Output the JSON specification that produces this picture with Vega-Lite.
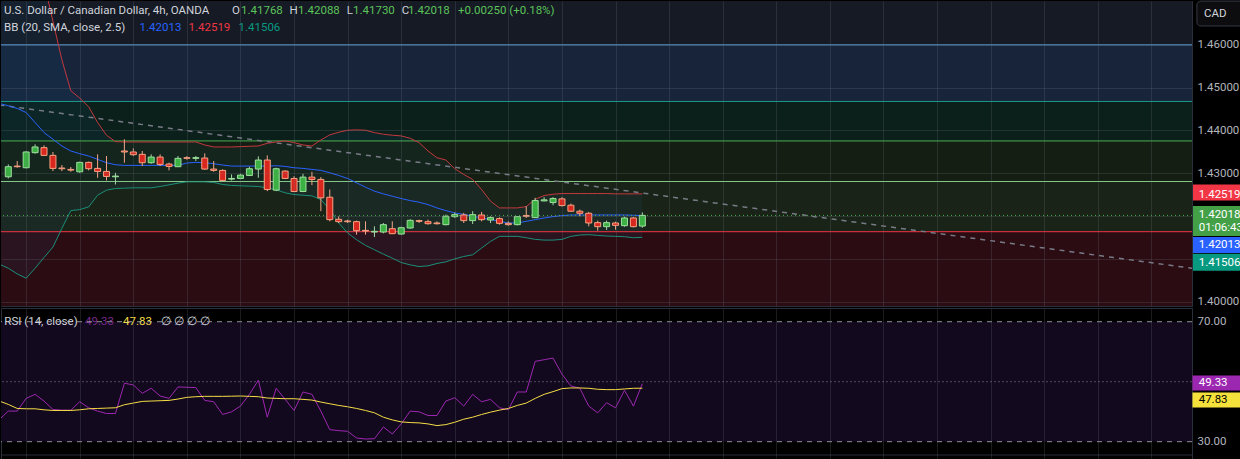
{
"$schema":"https://vega.github.io/schema/vega-lite/v6.json",
"background":"#000000",
"padding":0,
"autosize":{"type":"pad"},
"bounds":"flush",
"spacing":2,
"config":{"view":{"stroke":"#2a2e39","strokeWidth":1},"text":{"font":"Roboto"},"axis":{"labelFont":"Roboto"},"scale":{"continuousPadding":0}},
"resolve":{"scale":{"color":"independent"}},
"datasets":{
"zones":[{"z":"z0","lo":1.46,"hi":1.48},{"z":"z1","lo":1.44678,"hi":1.46},{"z":"z2","lo":1.43756,"hi":1.44678},{"z":"z3","lo":1.42809,"hi":1.43756},{"z":"z4","lo":1.41637,"hi":1.42809},{"z":"z5","lo":1.39,"hi":1.41637}],
"fib":[{"z":"f0","p":1.46},{"z":"f1","p":1.44678},{"z":"f2","p":1.43756},{"z":"f3","p":1.42809},{"z":"f4","p":1.41637}],
"trend":[{"k":-1,"p":1.44596},{"k":133,"p":1.4077}],
"ohlc":[
{"k":0,"o":1.42919,"h":1.43208,"l":1.4288,"c":1.43154},
{"k":1,"o":1.43169,"h":1.43286,"l":1.4313,"c":1.43154},
{"k":2,"o":1.4313,"h":1.43521,"l":1.43115,"c":1.43498},
{"k":3,"o":1.43482,"h":1.43677,"l":1.43458,"c":1.43615},
{"k":4,"o":1.43599,"h":1.43654,"l":1.43403,"c":1.43419},
{"k":5,"o":1.43419,"h":1.43498,"l":1.43052,"c":1.43115},
{"k":6,"o":1.43123,"h":1.43193,"l":1.43052,"c":1.43107},
{"k":7,"o":1.43091,"h":1.43146,"l":1.43036,"c":1.43075},
{"k":8,"o":1.43036,"h":1.43271,"l":1.43013,"c":1.43255},
{"k":9,"o":1.43255,"h":1.43271,"l":1.43068,"c":1.43107},
{"k":10,"o":1.43115,"h":1.43443,"l":1.42896,"c":1.43044},
{"k":11,"o":1.43044,"h":1.43403,"l":1.42833,"c":1.42927},
{"k":12,"o":1.42919,"h":1.43013,"l":1.42739,"c":1.42935},
{"k":13,"o":1.43521,"h":1.43795,"l":1.43247,"c":1.43498},
{"k":14,"o":1.43498,"h":1.43583,"l":1.43403,"c":1.43435},
{"k":15,"o":1.43443,"h":1.43521,"l":1.43169,"c":1.43247},
{"k":16,"o":1.43247,"h":1.43443,"l":1.43224,"c":1.4338},
{"k":17,"o":1.4338,"h":1.43443,"l":1.43169,"c":1.43208},
{"k":18,"o":1.43216,"h":1.43247,"l":1.43068,"c":1.43161},
{"k":19,"o":1.43154,"h":1.43403,"l":1.43146,"c":1.43349},
{"k":20,"o":1.43365,"h":1.43403,"l":1.43318,"c":1.43349},
{"k":21,"o":1.43349,"h":1.43403,"l":1.43286,"c":1.43365},
{"k":22,"o":1.43357,"h":1.43466,"l":1.43083,"c":1.43099},
{"k":23,"o":1.43099,"h":1.43286,"l":1.43036,"c":1.43068},
{"k":24,"o":1.43068,"h":1.43091,"l":1.42818,"c":1.42833},
{"k":25,"o":1.42864,"h":1.42974,"l":1.42833,"c":1.4288},
{"k":26,"o":1.4288,"h":1.42989,"l":1.42864,"c":1.42958},
{"k":27,"o":1.4295,"h":1.43154,"l":1.42935,"c":1.43107},
{"k":28,"o":1.43099,"h":1.43396,"l":1.42896,"c":1.4331},
{"k":29,"o":1.4331,"h":1.43419,"l":1.42583,"c":1.42622},
{"k":30,"o":1.42607,"h":1.4313,"l":1.42583,"c":1.43107},
{"k":31,"o":1.43052,"h":1.43068,"l":1.42864,"c":1.4288},
{"k":32,"o":1.4288,"h":1.42935,"l":1.4256,"c":1.42575},
{"k":33,"o":1.42575,"h":1.42989,"l":1.4256,"c":1.42911},
{"k":34,"o":1.42911,"h":1.43036,"l":1.42724,"c":1.42857},
{"k":35,"o":1.42857,"h":1.42911,"l":1.42115,"c":1.42427},
{"k":36,"o":1.42442,"h":1.42622,"l":1.41879,"c":1.41918},
{"k":37,"o":1.41926,"h":1.41996,"l":1.4184,"c":1.41871},
{"k":38,"o":1.41887,"h":1.41918,"l":1.4184,"c":1.41871},
{"k":39,"o":1.41871,"h":1.41895,"l":1.41567,"c":1.4166},
{"k":40,"o":1.41668,"h":1.41879,"l":1.41567,"c":1.41652},
{"k":41,"o":1.41629,"h":1.41762,"l":1.41512,"c":1.41645},
{"k":42,"o":1.41629,"h":1.4184,"l":1.41598,"c":1.41801},
{"k":43,"o":1.41707,"h":1.41879,"l":1.41582,"c":1.4159},
{"k":44,"o":1.41582,"h":1.41754,"l":1.41567,"c":1.4173},
{"k":45,"o":1.41723,"h":1.41926,"l":1.41707,"c":1.41902},
{"k":46,"o":1.41895,"h":1.41918,"l":1.4184,"c":1.41879},
{"k":47,"o":1.41871,"h":1.41918,"l":1.41801,"c":1.41824},
{"k":48,"o":1.4184,"h":1.41879,"l":1.41801,"c":1.41824},
{"k":49,"o":1.41801,"h":1.42035,"l":1.41785,"c":1.41996},
{"k":50,"o":1.41988,"h":1.42083,"l":1.41957,"c":1.42035},
{"k":51,"o":1.42027,"h":1.42075,"l":1.4184,"c":1.41895},
{"k":52,"o":1.41895,"h":1.42115,"l":1.41816,"c":1.42035},
{"k":53,"o":1.42027,"h":1.42099,"l":1.41879,"c":1.41918},
{"k":54,"o":1.4191,"h":1.41996,"l":1.4184,"c":1.41965},
{"k":55,"o":1.41942,"h":1.41973,"l":1.41801,"c":1.41832},
{"k":56,"o":1.41832,"h":1.41879,"l":1.41777,"c":1.41801},
{"k":57,"o":1.41801,"h":1.42004,"l":1.41785,"c":1.41988},
{"k":58,"o":1.42012,"h":1.42231,"l":1.41957,"c":1.41996},
{"k":59,"o":1.41965,"h":1.42427,"l":1.41957,"c":1.42364},
{"k":60,"o":1.42356,"h":1.42442,"l":1.42349,"c":1.4238},
{"k":61,"o":1.42317,"h":1.42442,"l":1.42255,"c":1.42411},
{"k":62,"o":1.42403,"h":1.42442,"l":1.42223,"c":1.42247},
{"k":63,"o":1.42255,"h":1.42294,"l":1.42099,"c":1.42115},
{"k":64,"o":1.42115,"h":1.42153,"l":1.41996,"c":1.42067},
{"k":65,"o":1.42067,"h":1.42099,"l":1.41762,"c":1.4184},
{"k":66,"o":1.41848,"h":1.41895,"l":1.4166,"c":1.41754},
{"k":67,"o":1.41754,"h":1.41895,"l":1.41676,"c":1.41848},
{"k":68,"o":1.4184,"h":1.41871,"l":1.41684,"c":1.41785},
{"k":69,"o":1.41777,"h":1.41988,"l":1.41754,"c":1.41957},
{"k":70,"o":1.41957,"h":1.41981,"l":1.41738,"c":1.41754},
{"k":71,"o":1.41768,"h":1.42088,"l":1.4173,"c":1.42018}
],
"bb":[
{"k":-1,"up":1.493,"mid":1.44631,"lo":1.40878},
{"k":0,"up":1.492,"mid":1.44577,"lo":1.40784},
{"k":1,"up":1.49,"mid":1.44514,"lo":1.40651},
{"k":2,"up":1.487,"mid":1.4442,"lo":1.4055},
{"k":3,"up":1.482,"mid":1.44186,"lo":1.40784},
{"k":4,"up":1.4745,"mid":1.43951,"lo":1.41034},
{"k":5,"up":1.4655,"mid":1.43795,"lo":1.41277},
{"k":6,"up":1.4565,"mid":1.43638,"lo":1.41715},
{"k":7,"up":1.44929,"mid":1.43521,"lo":1.42129},
{"k":8,"up":1.44757,"mid":1.43458,"lo":1.42153},
{"k":9,"up":1.44553,"mid":1.43404,"lo":1.42215},
{"k":10,"up":1.44186,"mid":1.43326,"lo":1.42489},
{"k":11,"up":1.43889,"mid":1.43247,"lo":1.42606},
{"k":12,"up":1.4374,"mid":1.432,"lo":1.42645},
{"k":13,"up":1.43732,"mid":1.43185,"lo":1.42653},
{"k":14,"up":1.43732,"mid":1.43185,"lo":1.42661},
{"k":15,"up":1.43732,"mid":1.43185,"lo":1.42661},
{"k":16,"up":1.43732,"mid":1.43185,"lo":1.42661},
{"k":17,"up":1.43732,"mid":1.43185,"lo":1.42692},
{"k":18,"up":1.43732,"mid":1.43185,"lo":1.42731},
{"k":19,"up":1.43732,"mid":1.43185,"lo":1.4277},
{"k":20,"up":1.43732,"mid":1.4324,"lo":1.42801},
{"k":21,"up":1.43732,"mid":1.43255,"lo":1.42801},
{"k":22,"up":1.43662,"mid":1.43247,"lo":1.42801},
{"k":23,"up":1.43615,"mid":1.43224,"lo":1.42786},
{"k":24,"up":1.43615,"mid":1.43193,"lo":1.42739},
{"k":25,"up":1.43615,"mid":1.43169,"lo":1.42716},
{"k":26,"up":1.43623,"mid":1.43169,"lo":1.42708},
{"k":27,"up":1.43631,"mid":1.43169,"lo":1.427},
{"k":28,"up":1.43638,"mid":1.43169,"lo":1.42692},
{"k":29,"up":1.43701,"mid":1.43169,"lo":1.42661},
{"k":30,"up":1.43732,"mid":1.43177,"lo":1.42614},
{"k":31,"up":1.43756,"mid":1.43161,"lo":1.42544},
{"k":32,"up":1.43717,"mid":1.4313,"lo":1.42505},
{"k":33,"up":1.43662,"mid":1.43115,"lo":1.42489},
{"k":34,"up":1.43638,"mid":1.43091,"lo":1.42473},
{"k":35,"up":1.43779,"mid":1.43068,"lo":1.42387},
{"k":36,"up":1.43897,"mid":1.43013,"lo":1.42153},
{"k":37,"up":1.43959,"mid":1.4295,"lo":1.4184},
{"k":38,"up":1.44006,"mid":1.4288,"lo":1.41606},
{"k":39,"up":1.44014,"mid":1.42778,"lo":1.4145},
{"k":40,"up":1.44006,"mid":1.42676,"lo":1.41317},
{"k":41,"up":1.43951,"mid":1.42583,"lo":1.41215},
{"k":42,"up":1.43912,"mid":1.4252,"lo":1.41113},
{"k":43,"up":1.43889,"mid":1.42465,"lo":1.41019},
{"k":44,"up":1.43873,"mid":1.42411,"lo":1.40917},
{"k":45,"up":1.43818,"mid":1.42364,"lo":1.40862},
{"k":46,"up":1.43717,"mid":1.42325,"lo":1.40823},
{"k":47,"up":1.43521,"mid":1.4227,"lo":1.40839},
{"k":48,"up":1.43365,"mid":1.42192,"lo":1.40894},
{"k":49,"up":1.4331,"mid":1.42129,"lo":1.40933},
{"k":50,"up":1.43107,"mid":1.42075,"lo":1.41003},
{"k":51,"up":1.42974,"mid":1.42043,"lo":1.41058},
{"k":52,"up":1.42857,"mid":1.41996,"lo":1.41097},
{"k":53,"up":1.42622,"mid":1.41957,"lo":1.41254},
{"k":54,"up":1.42349,"mid":1.41918,"lo":1.4141},
{"k":55,"up":1.42192,"mid":1.41879,"lo":1.41528},
{"k":56,"up":1.42192,"mid":1.4184,"lo":1.41528},
{"k":57,"up":1.42192,"mid":1.4184,"lo":1.41528},
{"k":58,"up":1.42223,"mid":1.41879,"lo":1.41496},
{"k":59,"up":1.42395,"mid":1.41918,"lo":1.41457},
{"k":60,"up":1.42481,"mid":1.41957,"lo":1.41441},
{"k":61,"up":1.42512,"mid":1.41988,"lo":1.41441},
{"k":62,"up":1.42528,"mid":1.42012,"lo":1.41457},
{"k":63,"up":1.42528,"mid":1.42027,"lo":1.41528},
{"k":64,"up":1.42528,"mid":1.42027,"lo":1.41559},
{"k":65,"up":1.42528,"mid":1.42027,"lo":1.41567},
{"k":66,"up":1.42528,"mid":1.42027,"lo":1.41551},
{"k":67,"up":1.42528,"mid":1.42027,"lo":1.41535},
{"k":68,"up":1.4252,"mid":1.42027,"lo":1.41528},
{"k":69,"up":1.4252,"mid":1.42027,"lo":1.4152},
{"k":70,"up":1.4252,"mid":1.4202,"lo":1.41496},
{"k":71,"up":1.42519,"mid":1.42013,"lo":1.41506}
],
"rsi":[
{"k":-1,"r":37.4,"m":43.55},{"k":0,"r":40.2,"m":42.43},{"k":1,"r":40.2,"m":41.08},{"k":2,"r":44.45,"m":40.97},{"k":3,"r":45.79,"m":40.97},
{"k":4,"r":43.55,"m":40.63},{"k":5,"r":40.75,"m":40.41},{"k":6,"r":40.52,"m":40.41},{"k":7,"r":40.52,"m":40.41},{"k":8,"r":43.32,"m":40.63},
{"k":9,"r":41.31,"m":40.97},{"k":10,"r":40.19,"m":41.08},{"k":11,"r":39.4,"m":41.2},{"k":12,"r":39.4,"m":41.31},{"k":13,"r":49.49,"m":42.32},
{"k":14,"r":48.93,"m":42.88},{"k":15,"r":46.13,"m":43.44},{"k":16,"r":47.81,"m":43.55},{"k":17,"r":45.23,"m":43.66},{"k":18,"r":44.44,"m":43.77},
{"k":19,"r":48.25,"m":44.22},{"k":20,"r":48.14,"m":44.78},{"k":21,"r":48.03,"m":45.0},{"k":22,"r":43.77,"m":45.12},{"k":23,"r":43.32,"m":45.12},
{"k":24,"r":39.07,"m":45.12},{"k":25,"r":39.96,"m":45.17},{"k":26,"r":41.87,"m":45.23},{"k":27,"r":45.79,"m":45.12},{"k":28,"r":50.5,"m":45.0},
{"k":29,"r":38.17,"m":44.56},{"k":30,"r":47.81,"m":44.44},{"k":31,"r":44.11,"m":44.33},{"k":32,"r":40.41,"m":44.33},{"k":33,"r":46.57,"m":44.11},
{"k":34,"r":45.79,"m":43.88},{"k":35,"r":40.19,"m":43.21},{"k":36,"r":34.02,"m":42.65},{"k":37,"r":33.69,"m":42.09},{"k":38,"r":33.46,"m":41.64},
{"k":39,"r":31.22,"m":41.08},{"k":40,"r":30.89,"m":40.41},{"k":41,"r":31.0,"m":39.63},{"k":42,"r":34.92,"m":38.17},{"k":43,"r":32.57,"m":37.27},
{"k":44,"r":35.93,"m":36.6},{"k":45,"r":40.19,"m":36.38},{"k":46,"r":39.96,"m":36.27},{"k":47,"r":38.73,"m":35.93},{"k":48,"r":38.73,"m":35.37},
{"k":49,"r":43.55,"m":35.7},{"k":50,"r":44.67,"m":36.49},{"k":51,"r":41.87,"m":37.5},{"k":52,"r":45.79,"m":38.17},{"k":53,"r":43.32,"m":39.07},
{"k":54,"r":44.11,"m":39.85},{"k":55,"r":41.31,"m":40.52},{"k":56,"r":40.64,"m":41.08},{"k":57,"r":46.57,"m":42.09},{"k":58,"r":46.57,"m":42.88},
{"k":59,"r":56.77,"m":44.44},{"k":60,"r":57.33,"m":45.79},{"k":61,"r":57.89,"m":46.69},{"k":62,"r":52.51,"m":47.69},{"k":63,"r":48.59,"m":47.92},
{"k":64,"r":47.81,"m":47.92},{"k":65,"r":41.87,"m":47.81},{"k":66,"r":39.63,"m":47.47},{"k":67,"r":42.99,"m":47.36},{"k":68,"r":41.31,"m":47.36},
{"k":69,"r":47.13,"m":47.58},{"k":70,"r":41.87,"m":47.81},{"k":71,"r":49.33,"m":47.83}
],
"legendMain":[
{"k":-0.48,"p":1.46801,"t":"U.S. Dollar / Canadian Dollar, 4h, OANDA","s":"lbl"},
{"k":25.05,"p":1.46801,"t":"O","s":"lbl"},
{"k":26.06,"p":1.46801,"t":"1.41768","s":"val"},
{"k":31.5,"p":1.46801,"t":"H","s":"lbl"},
{"k":32.44,"p":1.46801,"t":"1.42088","s":"val"},
{"k":37.9,"p":1.46801,"t":"L","s":"lbl"},
{"k":38.6,"p":1.46801,"t":"1.41730","s":"val"},
{"k":44.05,"p":1.46801,"t":"C","s":"lbl"},
{"k":44.76,"p":1.46801,"t":"1.42018","s":"val"},
{"k":50.36,"p":1.46801,"t":"+0.00250 (+0.18%)","s":"val"},
{"k":-0.48,"p":1.46404,"t":"BB (20, SMA, close, 2.5)","s":"lbl"},
{"k":14.7,"p":1.46404,"t":"1.42013","s":"basis"},
{"k":20.18,"p":1.46404,"t":"1.42519","s":"upper"},
{"k":25.78,"p":1.46404,"t":"1.41506","s":"lower"}
],
"tags":[
{"s":"upper","t":"1.42519","top":1.42737,"bot":1.42363,"mid":1.42505},
{"s":"close","t":"1.42018","top":1.42236,"bot":1.41536,"mid":1.42026},
{"s":"close","t":"01:06:43","top":1.42236,"bot":1.41536,"mid":1.41723},
{"s":"basis","t":"1.42013","top":1.41513,"bot":1.41139,"mid":1.41326},
{"s":"lower","t":"1.41506","top":1.4112,"bot":1.40723,"mid":1.40905}
],
"cad":[{"t":"CAD","top":1.4702,"bot":1.4644,"mid":1.46731}],
"rsiLegend":[
{"k":-0.44,"v":70,"t":"RSI (14, close)","s":"lbl"},
{"k":8.59,"v":70,"t":"49.33","s":"rsi"},
{"k":12.85,"v":70,"t":"47.83","s":"ma"},
{"k":17.1,"v":70,"t":"∅ ∅ ∅ ∅","s":"na"}
],
"rtags":[
{"s":"rsiT","t":"49.33","top":52.07,"bot":47.07,"mid":49.57},
{"s":"maT","t":"47.83","top":46.4,"bot":41.4,"mid":43.9}
]
},
"vconcat":[
{
"width":1191,"height":305,
"layer":[
{"data":{"name":"zones"},"mark":{"type":"rect","clip":true},
 "encoding":{
  "y":{"field":"lo","type":"quantitative","scale":{"domain":[1.39902,1.47023],"nice":false,"zero":false,"padding":0},
   "axis":{"orient":"right","values":[1.4,1.41,1.42,1.43,1.44,1.45,1.46],"labelExpr":"abs(datum.value-1.41)<0.0001||abs(datum.value-1.42)<0.0001?'':format(datum.value,'.5f')","grid":true,"gridColor":"#787b86","gridOpacity":0.22,"ticks":false,"domain":true,"domainColor":"#2a2e39","labelColor":"#b2b5be","labelFontSize":11.5,"labelPadding":5,"title":null,"zindex":1}},
  "y2":{"field":"hi"},
  "color":{"field":"z","type":"nominal","legend":null,"scale":{"domain":["z0","z1","z2","z3","z4","z5","f0","f1","f2","f3","f4","lbl","val","upper","close","basis","lower"],"range":["#151a24","#17243a","#0b1f1b","#141e12","#1a2317","#2b0c13","#5b9bd5","#1d9e8b","#4caf50","#86c98a","#f23645","#d1d4dc","#5cc35a","#f23645","#43a047","#2962ff","#089981"]}}
 }},
{"data":{"name":"bb"},"mark":{"type":"area","clip":true,"color":"#2196f3","opacity":0.06},
 "encoding":{
  "x":{"field":"k","type":"quantitative","scale":{"domain":[-0.817,132.55],"nice":false,"zero":false,"padding":0},
   "axis":{"values":[2,8,14,20,26,32,38,44,50,56,62,68,74,80,86,92,98,104,110,116,122,128],"grid":true,"gridColor":"#787b86","gridOpacity":0.22,"labels":false,"ticks":false,"domain":false,"title":null,"zindex":1}},
  "y":{"field":"up","type":"quantitative"},
  "y2":{"field":"lo"}
 }},
{"data":{"name":"fib"},"mark":{"type":"rule","clip":true,"strokeWidth":1},
 "encoding":{"y":{"field":"p","type":"quantitative"},
  "color":{"field":"z","type":"nominal","legend":null}}},
{"data":{"name":"trend"},"mark":{"type":"line","clip":true,"color":"#787b86","strokeDash":[5,5],"strokeWidth":1.5},
 "encoding":{"x":{"field":"k","type":"quantitative"},"y":{"field":"p","type":"quantitative"}}},
{"data":{"name":"bb"},"mark":{"type":"line","clip":true,"color":"#c4383e","strokeWidth":1},
 "encoding":{"x":{"field":"k","type":"quantitative"},"y":{"field":"up","type":"quantitative"}}},
{"data":{"name":"bb"},"mark":{"type":"line","clip":true,"color":"#2962ff","strokeWidth":1},
 "encoding":{"x":{"field":"k","type":"quantitative"},"y":{"field":"mid","type":"quantitative"}}},
{"data":{"name":"bb"},"mark":{"type":"line","clip":true,"color":"#1b8f7a","strokeWidth":1},
 "encoding":{"x":{"field":"k","type":"quantitative"},"y":{"field":"lo","type":"quantitative"}}},
{"data":{"values":[{"p":1.42018}]},"mark":{"type":"rule","color":"#4caf50","strokeDash":[1,3],"strokeWidth":1},
 "encoding":{"y":{"field":"p","type":"quantitative"}}},
{"data":{"name":"ohlc"},"mark":{"type":"rule","clip":true,"strokeWidth":1},
 "encoding":{"x":{"field":"k","type":"quantitative"},"y":{"field":"l","type":"quantitative"},"y2":{"field":"h"},
  "color":{"condition":{"test":"datum.c > datum.o","value":"#a5d6a7"},"value":"#f4a488"}}},
{"data":{"name":"ohlc"},"mark":{"type":"bar","clip":true,"width":6,"strokeWidth":1},
 "encoding":{"x":{"field":"k","type":"quantitative"},"y":{"field":"o","type":"quantitative"},"y2":{"field":"c"},
  "fill":{"condition":{"test":"datum.c > datum.o","value":"#3bb043"},"value":"#d8271f"},
  "stroke":{"condition":{"test":"datum.c > datum.o","value":"#9fe09f"},"value":"#f6a383"}}},
{"data":{"name":"legendMain"},"mark":{"type":"text","align":"left","baseline":"middle","font":"Roboto","fontSize":11.5},
 "encoding":{"x":{"field":"k","type":"quantitative"},"y":{"field":"p","type":"quantitative"},"text":{"field":"t"},
  "color":{"field":"s","type":"nominal","legend":null}}},
{"data":{"name":"tags"},"mark":{"type":"rect"},
 "encoding":{"x":{"datum":132.6,"type":"quantitative"},"x2":{"datum":139},"y":{"field":"top","type":"quantitative"},"y2":{"field":"bot"},
  "color":{"field":"s","type":"nominal","legend":null}}},
{"data":{"name":"tags"},"mark":{"type":"text","align":"left","baseline":"middle","font":"Roboto","fontSize":11.5,"color":"#ffffff"},
 "encoding":{"x":{"datum":133.3,"type":"quantitative"},"y":{"field":"mid","type":"quantitative"},"text":{"field":"t"}}},
{"data":{"name":"cad"},"mark":{"type":"rect","cornerRadius":4,"fill":"#0d0d0f","stroke":"#363a45","strokeWidth":1},
 "encoding":{"x":{"datum":133.1,"type":"quantitative"},"x2":{"datum":140},"y":{"field":"top","type":"quantitative"},"y2":{"field":"bot"}}},
{"data":{"name":"cad"},"mark":{"type":"text","align":"left","baseline":"middle","font":"Roboto","fontSize":11.5,"color":"#d1d4dc"},
 "encoding":{"x":{"datum":133.9,"type":"quantitative"},"y":{"field":"mid","type":"quantitative"},"text":{"field":"t"}}}
]
},
{
"width":1191,"height":152,
"layer":[
{"data":{"values":[{"lo":30,"hi":70}]},"mark":{"type":"rect","color":"#13091f"},
 "encoding":{"y":{"field":"lo","type":"quantitative","scale":{"domain":[23.9,74.57],"nice":false,"zero":false,"padding":0},
   "axis":{"orient":"right","values":[30,70],"format":".2f","grid":false,"ticks":false,"domain":true,"domainColor":"#2a2e39","labelColor":"#b2b5be","labelFontSize":11.5,"labelPadding":5,"title":null}},
  "y2":{"field":"hi"}}},
{"data":{"name":"rsiLegend"},"mark":{"type":"text","align":"left","baseline":"middle","font":"Roboto","fontSize":11.5},
 "encoding":{"x":{"field":"k","type":"quantitative","scale":{"domain":[-0.817,132.55],"nice":false,"zero":false,"padding":0},
   "axis":{"values":[2,8,14,20,26,32,38,44,50,56,62,68,74,80,86,92,98,104,110,116,122,128],"grid":true,"gridColor":"#787b86","gridOpacity":0.22,"labels":false,"ticks":false,"domain":false,"title":null,"zindex":1}},
  "y":{"field":"v","type":"quantitative"},"text":{"field":"t"},
  "color":{"field":"s","type":"nominal","legend":null,"scale":{"domain":["lbl","rsi","ma","na","rsiT","maT"],"range":["#d1d4dc","#7b2a8c","#f2dc48","#d1d4dc","#9c27b0","#f5e13c"]}}}},
{"data":{"values":[{"v":70},{"v":30}]},"mark":{"type":"rule","color":"#b2b5be","strokeDash":[5,5],"opacity":0.8},
 "encoding":{"y":{"field":"v","type":"quantitative"}}},
{"data":{"values":[{"v":50}]},"mark":{"type":"rule","color":"#787b86","strokeDash":[2,2],"opacity":0.6},
 "encoding":{"y":{"field":"v","type":"quantitative"}}},
{"data":{"values":[{"v":25.57}]},"mark":{"type":"rule","color":"#2a2e39"},
 "encoding":{"y":{"field":"v","type":"quantitative"}}},
{"data":{"name":"rsi"},"mark":{"type":"line","clip":true,"color":"#9c27b0","strokeWidth":1},
 "encoding":{"x":{"field":"k","type":"quantitative"},"y":{"field":"r","type":"quantitative"}}},
{"data":{"name":"rsi"},"mark":{"type":"line","clip":true,"color":"#f5dd45","strokeWidth":1},
 "encoding":{"x":{"field":"k","type":"quantitative"},"y":{"field":"m","type":"quantitative"}}},
{"data":{"name":"rtags"},"mark":{"type":"rect"},
 "encoding":{"x":{"datum":132.6,"type":"quantitative"},"x2":{"datum":139},"y":{"field":"top","type":"quantitative"},"y2":{"field":"bot"},
  "color":{"field":"s","type":"nominal","legend":null}}},
{"data":{"name":"rtags"},"mark":{"type":"text","align":"left","baseline":"middle","font":"Roboto","fontSize":11.5},
 "encoding":{"x":{"datum":133.3,"type":"quantitative"},"y":{"field":"mid","type":"quantitative"},"text":{"field":"t"},
  "color":{"condition":{"test":"datum.s==='maT'","value":"#000000"},"value":"#ffffff"}}}
]
}
]
}
